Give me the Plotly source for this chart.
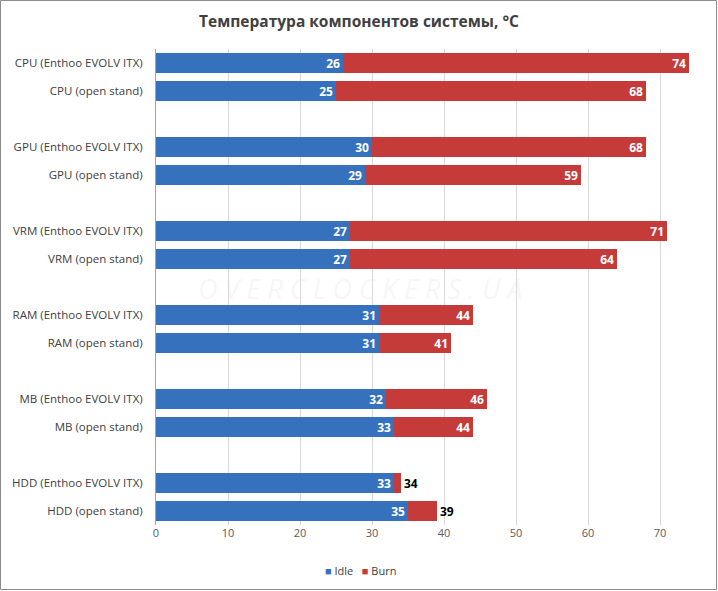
import plotly.graph_objects as go

categories = [
    "CPU (Enthoo EVOLV ITX)", "CPU (open stand)",
    "GPU (Enthoo EVOLV ITX)", "GPU (open stand)",
    "VRM (Enthoo EVOLV ITX)", "VRM (open stand)",
    "RAM (Enthoo EVOLV ITX)", "RAM (open stand)",
    "MB (Enthoo EVOLV ITX)", "MB (open stand)",
    "HDD (Enthoo EVOLV ITX)", "HDD (open stand)",
]
idle = [26, 25, 30, 29, 27, 27, 31, 31, 32, 33, 33, 35]
burn = [74, 68, 68, 59, 71, 64, 44, 41, 46, 44, 34, 39]
x_ticks = [0, 10, 20, 30, 40, 50, 60, 70]

# groups of two rows with one empty slot between groups
pos = [i + i // 2 for i in range(len(categories))]

FONT = "Open Sans, Liberation Sans, sans-serif"
BLUE = "#3671BD"
RED = "#C43B39"

burn_pos = ["outside" if c.startswith("HDD") else "inside" for c in categories]

fig = go.Figure()
fig.add_trace(go.Bar(
    name="Burn", y=pos, x=burn, orientation="h",
    marker=dict(color=RED, line=dict(width=0)),
    width=0.72,
    text=[str(v) for v in burn], textposition=burn_pos, textangle=0,
    insidetextanchor="end",
    insidetextfont=dict(color="white", size=12, family=FONT, weight="bold"),
    outsidetextfont=dict(color="black", size=12, family=FONT, weight="bold"),
    cliponaxis=False, constraintext="none", showlegend=False,
))
fig.add_trace(go.Bar(
    name="Idle", y=pos, x=idle, orientation="h",
    marker=dict(color=BLUE, line=dict(width=0)),
    width=0.72,
    text=[str(v) for v in idle], textposition="inside", textangle=0,
    insidetextanchor="end",
    insidetextfont=dict(color="white", size=12, family=FONT, weight="bold"),
    constraintext="none", showlegend=False,
))

W, H = 718, 591
ml, mr, mt, mb = 156, 13, 49, 66
pw, ph = W - ml - mr, H - mt - mb

# faint watermark
fig.add_annotation(
    text="O V E R C L O C K E R S . U A", xref="paper", yref="paper",
    x=(360 - ml) / pw, y=1 - (288 - mt) / ph, showarrow=False,
    font=dict(size=27, family=FONT, color="rgba(220,220,220,0.25)", style="italic"),
)

# legend drawn as text with coloured squares
legend_text = (f"<span style='color:{BLUE}'>■</span> Idle   "
               f"<span style='color:{RED}'>■</span> Burn")
fig.add_annotation(
    text=legend_text, xref="paper", yref="paper",
    x=(360 - ml) / pw, y=-(570 - mt - ph) / ph, showarrow=False,
    xanchor="center", yanchor="middle",
    font=dict(size=11, family=FONT, color="#404040"),
)

# outer border
fig.add_shape(type="rect", xref="paper", yref="paper",
              x0=(0.5 - ml) / pw, x1=(W - 1.5 - ml) / pw,
              y0=-(H - 1.5 - mt - ph) / ph, y1=1 + (mt - 0.5) / ph,
              line=dict(color="#8c8c8c", width=1), fillcolor="rgba(0,0,0,0)",
              layer="below")

fig.update_layout(
    width=W, height=H,
    margin=dict(l=ml, r=mr, t=mt, b=mb, pad=0, autoexpand=False),
    barmode="overlay",
    plot_bgcolor="white", paper_bgcolor="white",
    title=dict(text="<b>Температура компонентов системы, °C</b>",
               x=0.5, xref="container", xanchor="center",
               y=1 - 22 / H, yref="container", yanchor="middle",
               font=dict(size=15.5, family=FONT, color="#404040")),
    xaxis=dict(range=[0, 76.25], tickvals=x_ticks, showgrid=True,
               gridcolor="#d9d9d9", gridwidth=1, zeroline=False,
               showline=False, ticks="", ticklen=0, automargin=False,
               tickfont=dict(size=11, family=FONT, color="#595959")),
    yaxis=dict(tickvals=pos, ticktext=categories, range=[16.5, -0.5],
               showgrid=False, zeroline=False, showline=True,
               linecolor="#a6a6a6", linewidth=1, ticks="", ticklen=0,
               ticklabelstandoff=10, automargin=False,
               tickfont=dict(size=11.5, family=FONT, color="#404040")),
    showlegend=False,
    bargap=0,
)

fig.write_html("out.html", config={"displayModeBar": False})

# remove the browser's default body margin so the figure sits at the page origin
with open("out.html", "r", encoding="utf-8") as f:
    html = f.read()
html = html.replace("<body>", "<body style=\"margin:0;padding:0;overflow:hidden\">", 1)
with open("out.html", "w", encoding="utf-8") as f:
    f.write(html)
